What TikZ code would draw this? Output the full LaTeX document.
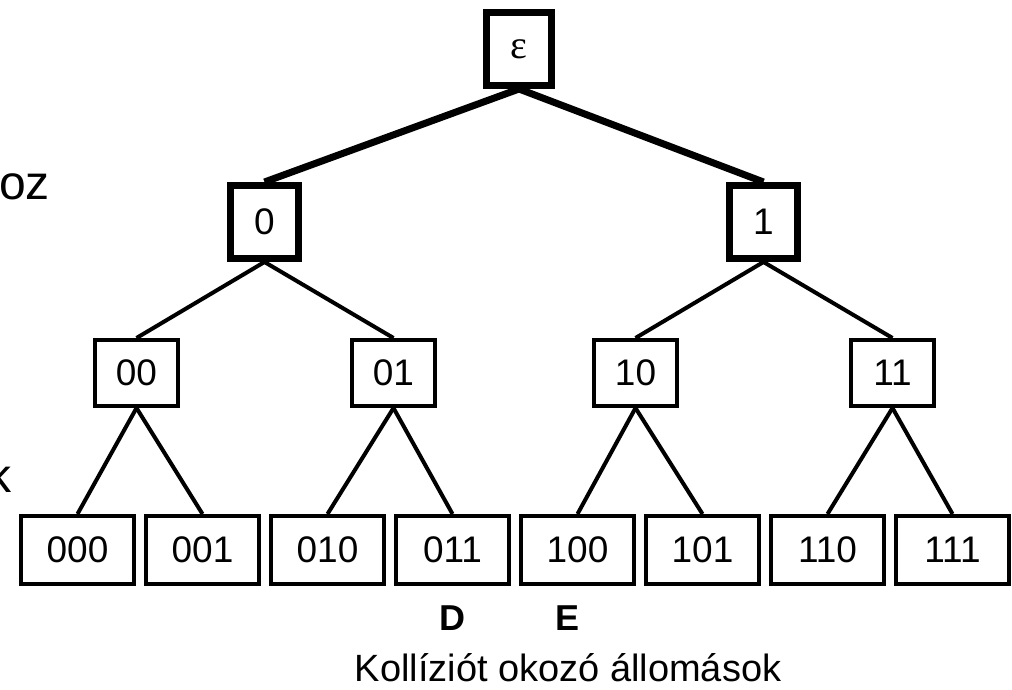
\documentclass[tikz,border=0pt]{standalone}
\usepackage{fontspec}
\setmainfont{Liberation Sans}
\newfontfamily\seriffont{Liberation Serif}
\begin{document}
\begin{tikzpicture}[x=1pt,y=-1pt,
  lbl/.style={font=\fontsize{37}{40}\selectfont},
  leafbox/.style={draw, line width=4pt, minimum width=113pt, minimum height=68pt, inner sep=0pt, lbl},
  midbox/.style={draw, line width=4pt, minimum width=83pt, minimum height=66pt, inner sep=0pt, lbl},
  onebox/.style={draw, line width=7pt, minimum width=68pt, minimum height=73pt, inner sep=0pt, lbl},
  rootbox/.style={draw, line width=7pt, minimum width=65pt, minimum height=73pt, inner sep=0pt, font=\seriffont\fontsize{40}{42}\selectfont},
  heavyline/.style={line width=7pt},
  thinline/.style={line width=4pt},
  sidetext/.style={font=\fontsize{48}{50}\selectfont, inner sep=0pt},
]
\useasboundingbox (0,0) rectangle (1012,690);
\clip (0,0) rectangle (1012,690);

% root
\node[rootbox] (r) at (519,49) {ε};
% level 1
\node[onebox] (n0) at (264.5,222) {0};
\node[onebox] (n1) at (763.5,222) {1};
% level 2
\node[midbox] (n00) at (136.5,373) {00};
\node[midbox] (n01) at (393.5,373) {01};
\node[midbox] (n10) at (635.5,373) {10};
\node[midbox] (n11) at (892.5,373) {11};
% leaves
\node[leafbox] (n000) at (77.5,550) {000};
\node[leafbox] (n001) at (202.5,550) {001};
\node[leafbox] (n010) at (327.5,550) {010};
\node[leafbox] (n011) at (452.5,550) {011};
\node[leafbox] (n100) at (577.5,550) {100};
\node[leafbox] (n101) at (702.5,550) {101};
\node[leafbox] (n110) at (827.5,550) {110};
\node[leafbox] (n111) at (952.5,550) {111};

% connectors
\draw[heavyline] (r.south) -- (n0.north);
\draw[heavyline] (r.south) -- (n1.north);
\draw[thinline] (n0.south) -- (n00.north);
\draw[thinline] (n0.south) -- (n01.north);
\draw[thinline] (n1.south) -- (n10.north);
\draw[thinline] (n1.south) -- (n11.north);
\draw[thinline] (n00.south) -- (n000.north);
\draw[thinline] (n00.south) -- (n001.north);
\draw[thinline] (n01.south) -- (n010.north);
\draw[thinline] (n01.south) -- (n011.north);
\draw[thinline] (n10.south) -- (n100.north);
\draw[thinline] (n10.south) -- (n101.north);
\draw[thinline] (n11.south) -- (n110.north);
\draw[thinline] (n11.south) -- (n111.north);

% labels
\node[font=\bfseries\fontsize{36}{40}\selectfont] (d) at (452.5,618) {D};
\node[font=\bfseries\fontsize{36}{40}\selectfont] (e) at (567,618) {E};
\node[font=\fontsize{38}{40}\selectfont, anchor=base, inner sep=0pt] (cap) at (568,681) {Kollíziót okozó állomások};

% clipped side texts
\node[sidetext, anchor=base west] (oz) at (-1,199) {oz};
\node[sidetext, anchor=base east] (k) at (12,492) {k};
\end{tikzpicture}
\end{document}
